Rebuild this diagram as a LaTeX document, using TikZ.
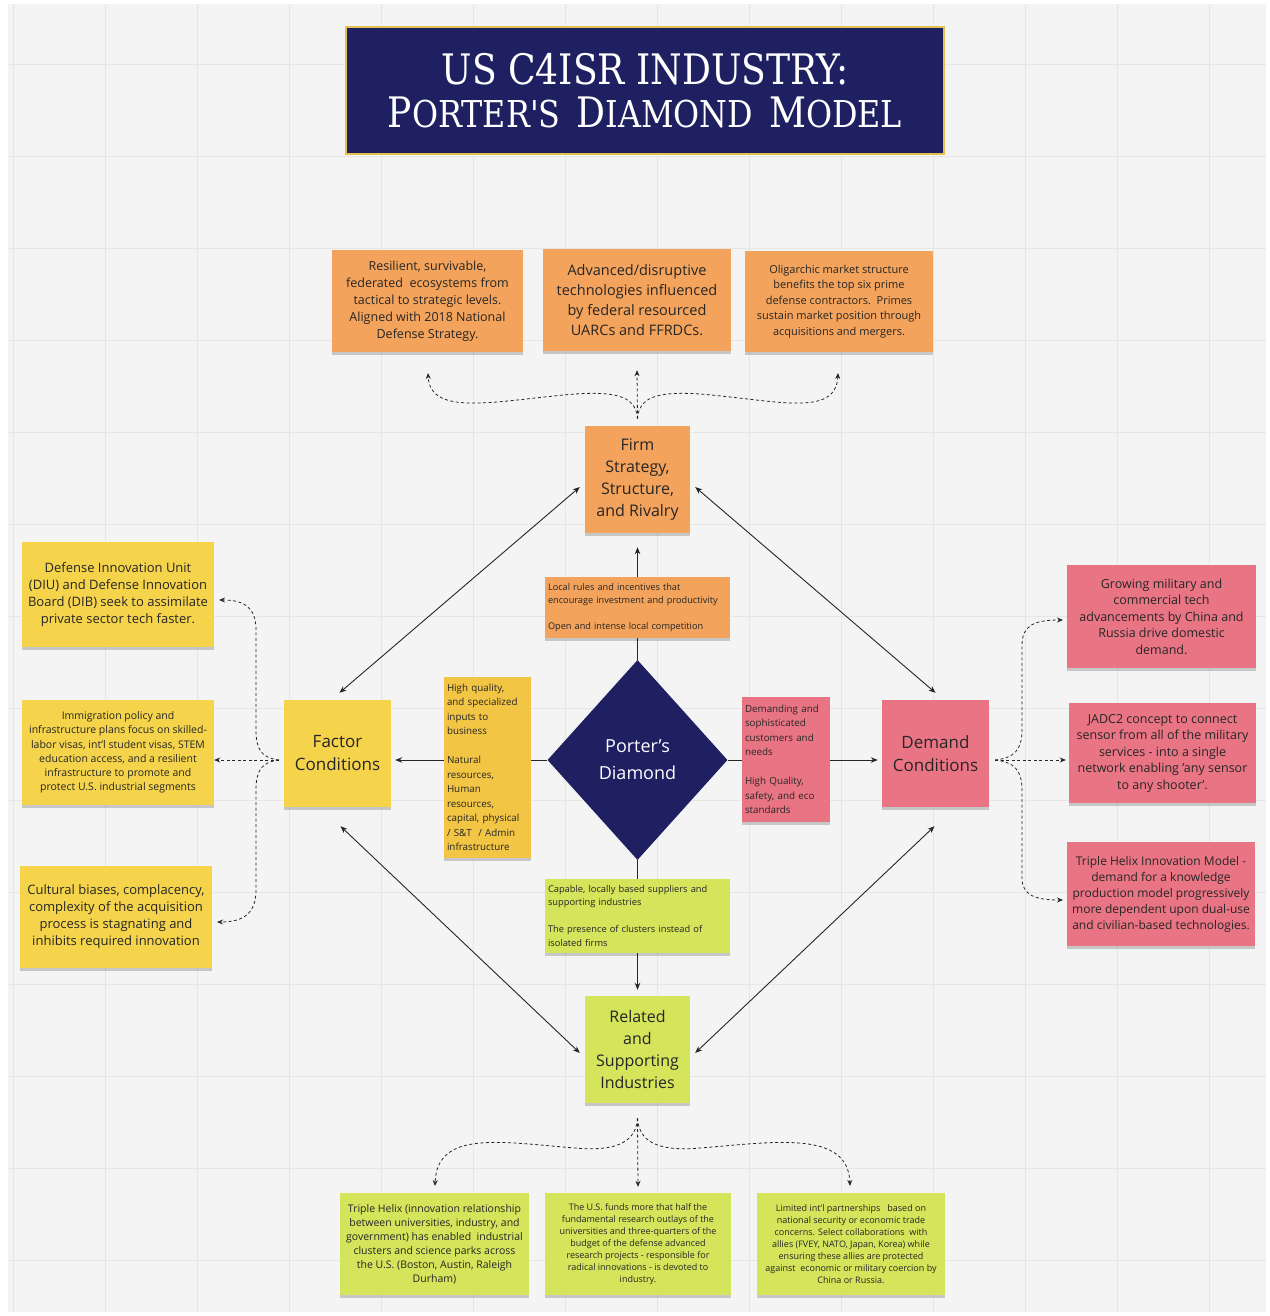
\documentclass[tikz,border=0pt]{standalone}
\usepackage{fontspec}
\setmainfont{Open Sans}
\newfontfamily\titlefont[FakeStretch=0.86]{DejaVu Serif}
\usetikzlibrary{shapes.geometric,arrows.meta,shadows}

\definecolor{cBg}{HTML}{F4F4F4}
\definecolor{cGrid}{HTML}{E6E6E6}
\definecolor{cNavy}{HTML}{1E2062}
\definecolor{cGold}{HTML}{E3C04F}
\definecolor{cOr}{HTML}{F3A35B}
\definecolor{cYe}{HTML}{F5D44C}
\definecolor{cGl}{HTML}{F2C545}
\definecolor{cPk}{HTML}{E97584}
\definecolor{cLm}{HTML}{D4E45B}
\definecolor{cInk}{HTML}{262626}

\newcommand\fsz[2]{\fontsize{#1}{#2}\selectfont}

\tikzset{
  sticky/.style={rectangle, inner sep=3pt, align=center, text=cInk,
    drop shadow={shadow xshift=0pt, shadow yshift=-3pt, opacity=0.18, fill=black}},
  lsticky/.style={sticky, align=left},
  conn/.style={draw=cInk, line width=0.9pt, -{Stealth[length=7pt,width=5.5pt]}},
  dconn/.style={draw=cInk, line width=0.9pt, {Stealth[length=7pt,width=5.5pt]}-{Stealth[length=7pt,width=5.5pt]}},
  dsh/.style={draw=cInk, line width=0.8pt, dash pattern=on 3pt off 2.5pt, -{Stealth[length=6pt,width=5pt]}},
}

\begin{document}
\begin{tikzpicture}[x=1pt,y=-1pt]
\useasboundingbox (0,0) rectangle (1269,1316);
\fill[white] (0,0) rectangle (1269,1316);
\fill[cBg] (8,4) rectangle (1266,1312);
\foreach \gx in {13,105,...,1253} \draw[cGrid, line width=0.8pt] (\gx,4) -- (\gx,1312);
\foreach \gy in {64,156,...,1300} \draw[cGrid, line width=0.8pt] (8,\gy) -- (1266,\gy);

% title
\node[fill=cNavy, draw=cGold, line width=2pt, minimum width=598pt, minimum height=127pt,
  text=white, align=center, inner sep=0pt, font=\titlefont\fsz{42}{43}] (title) at (645,90.5)
  {US C4ISR INDUSTRY:\\
   P{\fsz{37}{43}ORTER'S}\hspace{16pt}D{\fsz{37}{43}IAMOND}\hspace{16pt}M{\fsz{37}{43}ODEL}};

% top stickies
\node[sticky, fill=cOr, minimum width=191pt, minimum height=102pt, font=\fsz{12.5}{17}] (t1) at (427.5,301)
  {Resilient, survivable,\\federated\ \ ecosystems from\\tactical to strategic levels.\\Aligned with 2018 National\\Defense Strategy.};
\node[sticky, fill=cOr, minimum width=188pt, minimum height=102pt, font=\fsz{14.5}{20}] (t2) at (637,300)
  {Advanced/disruptive\\technologies influenced\\by federal resourced\\UARCs and FFRDCs.};
\node[sticky, fill=cOr, minimum width=188pt, minimum height=101pt, font=\fsz{11}{15.5}] (t3) at (839,301.5)
  {Oligarchic market structure\\benefits the top six prime\\defense contractors.\ \ Primes\\sustain market position through\\acquisitions and mergers.};

% main nodes
\node[sticky, fill=cOr, minimum width=105pt, minimum height=107pt, font=\fsz{16}{22}] (fir) at (637.5,479.5)
  {Firm\\Strategy,\\Structure,\\and Rivalry};
\node[sticky, fill=cYe, minimum width=107pt, minimum height=107pt, font=\fsz{17}{23}] (fac) at (337.5,753.5)
  {Factor\\Conditions};
\node[sticky, fill=cPk, minimum width=107pt, minimum height=107pt, font=\fsz{17}{23}] (dem) at (935.5,753.5)
  {Demand\\Conditions};
\node[sticky, fill=cLm, minimum width=105pt, minimum height=107pt, font=\fsz{16}{22}] (rel) at (637.5,1049.5)
  {Related\\and\\Supporting\\Industries};
\node[diamond, fill=cNavy, minimum width=180pt, minimum height=200pt, inner sep=0pt, aspect=0.9,
  text=white, align=center, font=\fsz{18}{27}] (dia) at (637.5,760) {Porter's\\Diamond};

% side stickies
\node[sticky, fill=cYe, minimum width=192pt, minimum height=105pt, font=\fsz{13}{17}] (l1) at (118,594.5)
  {Defense Innovation Unit\\(DIU) and Defense Innovation\\Board (DIB) seek to assimilate\\private sector tech faster.};
\node[sticky, fill=cYe, minimum width=192pt, minimum height=105pt, font=\fsz{10.5}{14.3}] (l2) at (118,752.5)
  {Immigration policy and\\infrastructure plans focus on skilled-\\labor visas, int'l student visas, STEM\\education access, and a resilient\\infrastructure to promote and\\protect U.S. industrial segments};
\node[sticky, fill=cYe, minimum width=192pt, minimum height=102pt, font=\fsz{13}{17}] (l3) at (116,917)
  {Cultural biases, complacency,\\complexity of the acquisition\\process is stagnating and\\inhibits required innovation};

\node[sticky, fill=cPk, minimum width=189pt, minimum height=103pt, font=\fsz{12.5}{16.5}] (r1) at (1161.5,616.5)
  {Growing military and\\commercial tech\\advancements by China and\\Russia drive domestic\\demand.};
\node[sticky, fill=cPk, minimum width=187pt, minimum height=100pt, font=\fsz{12.5}{16.5}] (r2) at (1162.5,753)
  {JADC2 concept to connect\\sensor from all of the military\\services - into a single\\network enabling 'any sensor\\to any shooter'.};
\node[sticky, fill=cPk, minimum width=188pt, minimum height=104pt, font=\fsz{12}{16}] (r3) at (1161,894)
  {Triple Helix Innovation Model -\\demand for a knowledge\\production model progressively\\more dependent upon dual-use\\and civilian-based technologies.};

% bottom stickies
\node[sticky, fill=cLm, minimum width=189pt, minimum height=102pt, font=\fsz{10.5}{14}] (b1) at (434.5,1244)
  {Triple Helix (innovation relationship\\between universities, industry, and\\government) has enabled\ \ industrial\\clusters and science parks across\\the U.S. (Boston, Austin, Raleigh\\Durham)};
\node[sticky, fill=cLm, minimum width=186pt, minimum height=102pt, font=\fsz{9}{12}] (b2) at (638,1244)
  {The U.S. funds more that half the\\fundamental research outlays of the\\universities and three-quarters of the\\budget of the defense advanced\\research projects - responsible for\\radical innovations - is devoted to\\industry.};
\node[sticky, fill=cLm, minimum width=188pt, minimum height=102pt, font=\fsz{9}{12}] (b3) at (851,1244)
  {Limited int'l partnerships\ \ \ based on\\national security or economic trade\\concerns. Select collaborations\ \ with\\allies (FVEY, NATO, Japan, Korea) while\\ensuring these allies are protected\\against\ \ economic or military coercion by\\China or Russia.};

% solid connectors
\draw[conn] (dia.north) -- ([yshift=-14pt]fir.south);
\draw[conn] (dia.south) -- ([yshift=6pt]rel.north);
\draw[conn] (dia.west) -- ([xshift=4pt]fac.east |- dia.west);
\draw[conn] (dia.east) -- ([xshift=-4pt]dem.west |- dia.east);
\draw[dconn] ([shift={(2,-7)}]fac.north) -- ([shift={(-5,7.5)}]fir.west);
\draw[dconn] ([shift={(5,7.5)}]fir.east) -- ([shift={(0,-7)}]dem.north);
\draw[dconn] ([shift={(3,19)}]fac.south) -- ([shift={(-5,3.5)}]rel.west);
\draw[dconn] ([shift={(-1,19)}]dem.south) -- ([shift={(5,3.5)}]rel.east);

% dashed fan-outs
\coordinate (fo) at ([yshift=7pt]fir.north);
\coordinate (tl) at (428,373);
\coordinate (tr) at (838,373);
\draw[dsh] (fo) -- ([yshift=-19pt]t2.south);
\draw[dsh] (fo) .. controls (636,398) and (620,391) .. (575,394) .. controls (500,400) and (430,418) .. (tl);
\draw[dsh] (fo) .. controls (639,398) and (655,391) .. (700,394) .. controls (775,400) and (836,418) .. (tr);

\coordinate (ro) at ([yshift=-15pt]rel.south);
\coordinate (bl) at (435,1186);
\coordinate (br) at (850,1186);
\draw[dsh] (ro) -- ([yshift=6pt]b2.north);
\draw[dsh] (ro) .. controls (636,1140) and (620,1152) .. (575,1148) .. controls (500,1142) and (437,1130) .. (bl);
\draw[dsh] (ro) .. controls (639,1140) and (655,1152) .. (700,1148) .. controls (775,1142) and (848,1130) .. (br);

\coordinate (lo) at (279,760);
\coordinate (lu) at (219,600);
\coordinate (ld) at (217,922);
\draw[dsh] (lo) -- (l2.east |- lo);
\draw[dsh] (lo) .. controls (262,758) and (256,750) .. (256,730) -- (256,630) .. controls (256,608) and (245,600) .. (lu);
\draw[dsh] (lo) .. controls (262,762) and (256,770) .. (256,790) -- (256,890) .. controls (256,912) and (245,922) .. (ld);

\coordinate (so) at (995,760);
\coordinate (su) at (1063,620);
\coordinate (sd) at (1063,900);
\draw[dsh] (so) -- ([xshift=-3pt]r2.west |- so);
\draw[dsh] (so) .. controls (1014,758) and (1022,750) .. (1022,730) -- (1022,645) .. controls (1022,625) and (1035,620) .. (su);
\draw[dsh] (so) .. controls (1014,762) and (1022,770) .. (1022,790) -- (1022,878) .. controls (1022,895) and (1035,900) .. (sd);

% inner stickies (drawn over the connectors)
\node[lsticky, fill=cOr, minimum height=61pt, text width=179pt, font=\fsz{9.2}{13}] (loc) at (637.5,607.5)
  {Local rules and incentives that\\encourage investment and productivity\\[13pt]Open and intense local competition};
\node[lsticky, fill=cGl, minimum height=181pt, text width=81pt, font=\fsz{9.8}{14.5}] (hq) at (487.5,767.5)
  {High quality,\\and specialized\\inputs to\\business\\[14.5pt]Natural\\resources,\\Human\\resources,\\capital, physical\\/ S\&T\ \ / Admin\\infrastructure};
\node[lsticky, fill=cPk, minimum height=125pt, text width=82pt, font=\fsz{9.8}{14.5}] (dmd) at (786,759.5)
  {Demanding and\\sophisticated\\customers and\\needs\\[14.5pt]High Quality,\\safety, and eco\\standards};
\node[lsticky, fill=cLm, minimum height=74pt, text width=179pt, font=\fsz{9.3}{13.5}] (cap) at (637.5,916)
  {Capable, locally based suppliers and\\supporting industries\\[13.5pt]The presence of clusters instead of\\isolated firms};
\end{tikzpicture}
\end{document}
